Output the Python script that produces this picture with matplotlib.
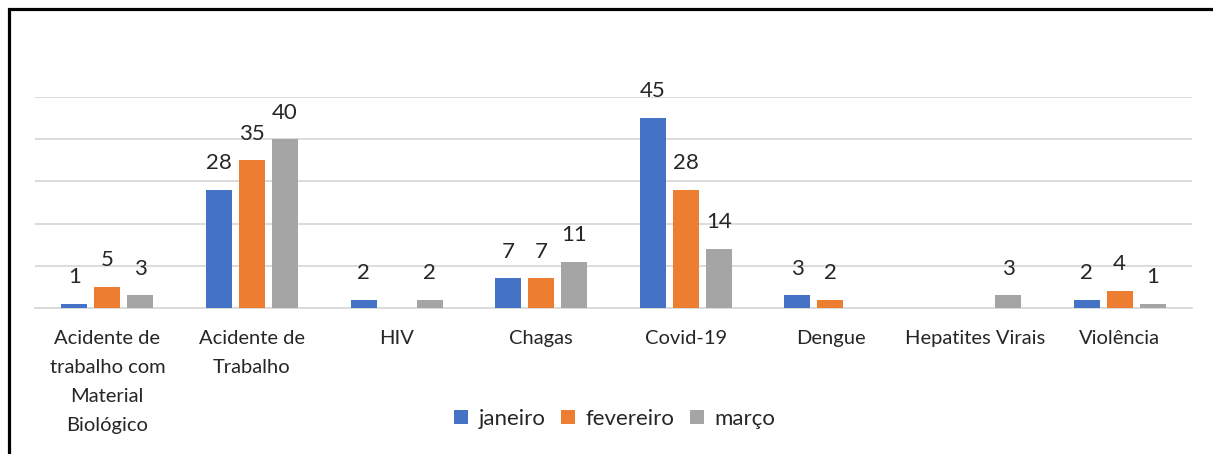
import matplotlib
matplotlib.use("Agg")
from matplotlib import pyplot as plt
from matplotlib.patches import Rectangle
import numpy as np

categorias = ["Acidente de\ntrabalho com\nMaterial\nBiológico", "Acidente de\nTrabalho", "HIV",
              "Chagas", "Covid-19", "Dengue", "Hepatites Virais", "Violência"]
janeiro = [1, 28, 2, 7, 45, 3, 0, 2]
fevereiro = [5, 35, 0, 7, 28, 2, 0, 4]
marco = [3, 40, 2, 11, 14, 0, 3, 1]

series = [("janeiro", janeiro, "#4472C4"),
          ("fevereiro", fevereiro, "#ED7D31"),
          ("março", marco, "#A5A5A5")]

plt.rcParams['font.family'] = ['Lato', 'DejaVu Sans']

fig = plt.figure(figsize=(12.13, 4.54), dpi=100)
ax = fig.add_axes([35/1213, 1-308/454, 1157/1213, 211/454])

x = np.arange(len(categorias))
w = 0.18
off = 0.228
for i, (nome, vals, cor) in enumerate(series):
    pos = x + (i-1)*off
    ax.bar(pos, vals, w, color=cor, label=nome, zorder=3)
    for p, v in zip(pos, vals):
        if v > 0:
            ax.annotate(str(v), (p, v), xytext=(0, 12), textcoords="offset points",
                        ha="center", va="bottom", fontsize=16, color="#262626",
                        annotation_clip=False)

ax.set_xlim(-0.5, len(categorias)-0.5)
ax.set_ylim(0, 50)
ax.set_yticks(np.arange(0, 51, 10))
ax.set_yticklabels([])
ax.tick_params(axis='y', length=0)
ax.tick_params(axis='x', length=0, pad=16)
ax.set_xticks(x)
ax.set_xticklabels(categorias, fontsize=14.5, color="#262626", linespacing=1.86, va="top")
ax.grid(axis='y', color="#D9D9D9", linewidth=1.3, zorder=0)
for s in ["top", "right", "left"]:
    ax.spines[s].set_visible(False)
ax.spines["bottom"].set_color("#D9D9D9")
ax.spines["bottom"].set_linewidth(1.3)

fig.legend(loc="center", bbox_to_anchor=(0.507, 1-419/454), ncol=3, frameon=False,
           fontsize=16, handlelength=0.6, handleheight=0.6, handletextpad=0.5,
           columnspacing=0.7, labelcolor="#262626")

# moldura
fig.patches.append(Rectangle((8.5/1213, -0.1), 1.2, 1.1-9.5/454,
                             transform=fig.transFigure, fill=False,
                             edgecolor="black", linewidth=2.3))

plt.savefig("out.png", dpi=100)
